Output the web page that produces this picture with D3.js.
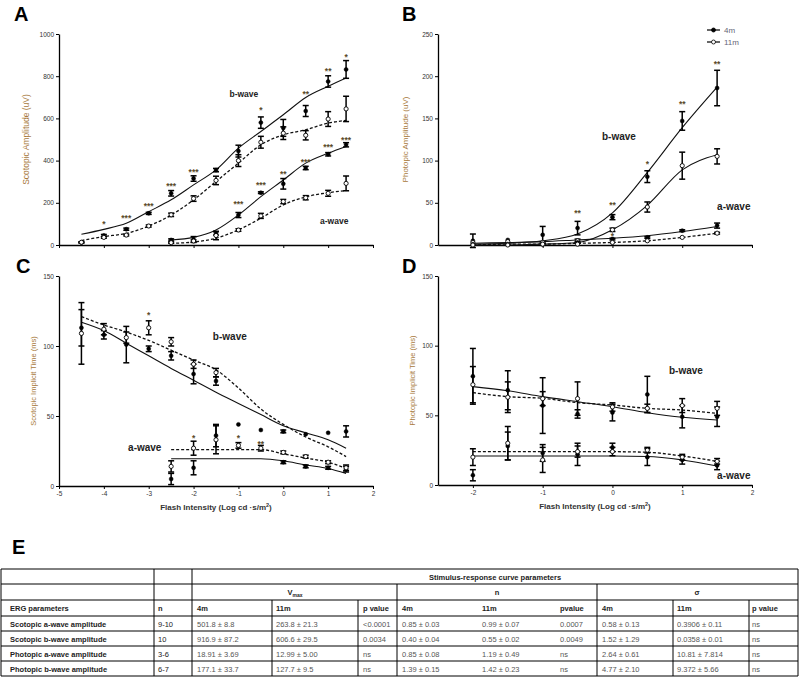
<!DOCTYPE html>
<html>
<head>
<meta charset="utf-8">
<script src="https://cdn.jsdelivr.net/npm/d3@7"></script>
<style>
  body { margin: 0; background: #fff; }
  svg { display: block; font-family: "Liberation Sans", Arial, sans-serif; }
</style>
</head>
<body>
<svg id="chart" width="800" height="678"></svg>
<script>
// ---- flash intensities (log cd.s/m2) ----
var scotIntensity = [-4.5, -4, -3.5, -3, -2.5, -2, -1.5, -1, -0.5, 0, 0.5, 1, 1.4];
var scotIntensityA = [-2.5, -2, -1.5, -1, -0.5, 0, 0.5, 1, 1.4];
var photIntensity = [-2, -1.5, -1, -0.5, 0, 0.5, 1, 1.5];

// ---- A: scotopic amplitude (uV) ----
var scotB4m = [12, 45, 75, 150, 245, 315, 355, 445, 580, 555, 635, 775, 832];
var scotB4mErr = [3, 5, 5, 5, 13, 13, 8, 28, 27, 40, 26, 27, 42];
var scotB11m = [13, 36, 47, 90, 143, 220, 306, 400, 487, 530, 520, 597, 645];
var scotB11mErr = [2, 4, 4, 5, 8, 13, 20, 28, 28, 30, 22, 35, 60];
var scotA4m = [24, 26, 55, 142, 248, 290, 365, 430, 475];
var scotA4mErr = [5, 14, 8, 12, 4, 25, 8, 8, 10];
var scotA11m = [11, 19, 45, 71, 138, 206, 224, 245, 292];
var scotA11mErr = [3, 5, 20, 6, 12, 10, 10, 14, 35];
var scotBFit4m = [51, 74, 103, 158, 214, 285, 356, 459, 538, 617, 699, 752, 791];
var scotBFit11m = [21, 40, 55, 90, 142, 214, 301, 388, 475, 522, 546, 578, 590];
var scotAFit4m = [24, 36, 71, 142, 229, 308, 388, 435, 467];
var scotAFit11m = [8, 14, 32, 72, 127, 190, 228, 248, 258];
var scotAmpStarX = [-4, -3.5, -3, -2.5, -2, -0.5, 0.5, 1, 1.4, -1, -0.5, 0, 0.5, 1, 1.4];
var scotAmpStarY = [106, 131, 190, 282, 353, 645, 720, 828, 897, 198, 290, 340, 399, 467, 503];
var scotAmpStars = ["*", "***", "***", "***", "***", "*", "**", "**", "*", "***", "***", "**", "***", "***", "***"];

// ---- B: photopic amplitude (uV) ----
var photB4m = [5, 6, 12, 20, 33, 81, 147, 186];
var photB4mErr = [8, 0, 10, 8, 3, 7, 11, 21];
var photB11m = [3, 4, 3, 5, 18, 45, 94, 105];
var photB11mErr = [0, 0, 1, 2, 2, 6, 16, 9];
var photA4m = [1, 1, 1, 3, 7, 9, 17, 23];
var photA4mErr = [0, 0, 0, 1, 1, 1, 1, 3];
var photA11m = [0, 0, 1, 1, 3, 5, 9, 14];
var photA11mErr = [0, 0, 0, 0, 0, 0, 0, 1];
var photBFit4m = [1, 2, 5, 13, 38, 86, 139, 187];
var photBFit11m = [0, 0, 1, 3, 18, 47, 89, 107];
var photAFit4m = [2, 3, 4, 6, 8, 11, 16, 22];
var photAFit11m = [0, 1, 1, 2, 3, 5, 9, 14];
var photAmpStarX = [-0.5, 0, 0.5, 1, 1.5, 0];
var photAmpStarY = [39, 49, 97, 168, 216, 12];
var photAmpStars = ["**", "**", "*", "**", "**", "*"];

// ---- C: scotopic implicit time (ms) ----
var scotTimeB4m = [113, 108, 101, 98, 93, 80, 75, 44, 40, 39, 37, 38, 39];
var scotTimeB4mErr = [13, 3, 13, 2, 3, 7, 3, 0, 0, 1, 0, 0, 4];
var scotTimeB11m = [109, 112, 106, 113, 103, 87, 81, null, null, null, null, null, null];
var scotTimeB11mErr = [22, 4, 4, 5, 3, 3, 3, 0, 0, 0, 0, 0, 0];
var scotTimeA4m = [5, 13, 36, null, null, 17, 14, 13, 12];
var scotTimeA4mErr = [4, 5, 8, 0, 0, 1, 1, 1, 2];
var scotTimeA11m = [14, 27, 33, 29, 27, 24, 21, 17, 13];
var scotTimeA11mErr = [4, 5, 10, 2, 2, 1, 1, 1, 2];
var scotTimeBFit4m = [117, 111, 102, 93, 84, 75.5, 67, 59, 51, 43, 38, 33, 27];
var scotTimeBFit11m = [121, 115, 110, 104, 97, 90, 83, 70, 55, 44, 35, 28, 21];
var scotTimeAFit4m = [19.5, 19.5, 19.5, 19.5, 19.5, 18, 15, 12.5, 9];
var scotTimeAFit11m = [26, 26, 26, 26, 26, 23, 20, 17, 12.5];
var scotTimeStarX = [-3, -2, -1, -0.5];
var scotTimeStarY = [123, 35, 35, 31];
var scotTimeStars = ["*", "*", "*", "**"];

// ---- D: photopic implicit time (ms) ----
var photTimeB4m = [78, 68, 57, 51, 52, 65, 49, 49];
var photTimeB4mErr = [20, 14, 20, 3, 6, 13, 8, 7];
var photTimeB11m = [72, 63, 62, 62, 56, 55, 57, 55];
var photTimeB11mErr = [13, 11, 5, 12, 3, 3, 5, 5];
var photTimeA4m = [7, 28, 23, 22, 27, 20, 18, 14];
var photTimeA4mErr = [4, 10, 6, 8, 3, 6, 3, 3];
var photTimeA11m = [20, 30, 18, 24, 24, 25, 20, 17];
var photTimeA11mErr = [6, 12, 9, 4, 3, 2, 2, 2];
var photTimeBFit4m = [70.6, 67.7, 63.4, 59.8, 56.2, 51.9, 48.6, 46.7];
var photTimeBFit11m = [66.3, 63.4, 62.2, 59.1, 57.4, 55, 53.8, 51.4];
var photTimeAFit4m = [20.8, 20.8, 20.8, 20.8, 20.8, 20.5, 18, 13.6];
var photTimeAFit11m = [23.9, 23.9, 23.9, 23.9, 23.9, 23.5, 20.8, 17];

// ---- E: table ----
var tableHeader = ["ERG parameters", "n", "4m", "11m", "p value", "4m", "11m", "pvalue", "4m", "11m", "p value"];
var tableRows = [
  ["Scotopic a-wave amplitude", "9-10", "501.8 ± 8.8", "263.8 ± 21.3", "<0.0001", "0.85 ± 0.03", "0.99 ± 0.07", "0.0007", "0.58 ± 0.13", "0.3906 ± 0.11", "ns"],
  ["Scotopic b-wave amplitude", "10", "916.9 ± 87.2", "606.6 ± 29.5", "0.0034", "0.40 ± 0.04", "0.55 ± 0.02", "0.0049", "1.52 ± 1.29", "0.0358 ± 0.01", "ns"],
  ["Photopic a-wave amplitude", "3-6", "18.91 ± 3.69", "12.99 ± 5.00", "ns", "0.85 ± 0.08", "1.19 ± 0.49", "ns", "2.64 ± 0.61", "10.81 ± 7.814", "ns"],
  ["Photopic b-wave amplitude", "6-7", "177.1 ± 33.7", "127.7 ± 9.5", "ns", "1.39 ± 0.15", "1.42 ± 0.23", "ns", "4.77 ± 2.10", "9.372 ± 5.66", "ns"]
];

var svg = d3.select("#chart");
svg.append("rect").attr("width", 800).attr("height", 678).attr("fill", "#fff");

var zip = function(xs, ys, es) {
  return xs.map(function(v, i) { return { x: v, y: ys[i], e: es ? es[i] : 0 }; });
};

var drawPanel = function(p) {
  var x = d3.scaleLinear().domain(p.xDomain).range([p.left, p.right]);
  var y = d3.scaleLinear().domain(p.yDomain).range([p.bottom, p.top]);
  var g = svg.append("g");

  var xAxis = d3.axisBottom(x).tickValues(p.xTicks).tickSize(3).tickSizeOuter(0).tickPadding(2)
    .tickFormat(p.xLabels ? function(d) { return String(d); } : "");
  var ax = g.append("g").attr("transform", "translate(0," + p.bottom + ")").call(xAxis);
  var ay = g.append("g").attr("transform", "translate(" + p.left + ",0)")
    .call(d3.axisLeft(y).tickValues(p.yTicks).tickSize(3).tickSizeOuter(0).tickPadding(2)
      .tickFormat(function(d) { return String(d); }));
  [ax, ay].forEach(function(a) {
    a.select(".domain").attr("stroke", "#000").attr("stroke-width", 1.3);
    a.selectAll(".tick line").attr("stroke", "#000").attr("stroke-width", 1);
    a.selectAll(".tick text").attr("font-size", 6.5).attr("fill", "#333")
      .attr("font-family", "Liberation Sans, Arial, sans-serif");
  });

  // y title
  g.append("text")
    .attr("transform", "translate(" + p.yTitleX + "," + ((p.top + p.bottom) / 2) + ") rotate(-90)")
    .attr("text-anchor", "middle").attr("font-size", p.yTitleSize).attr("fill", "#a87a3c")
    .text(p.yTitle);
  if (p.xTitle) {
    var t = g.append("text")
      .attr("x", (p.left + p.right) / 2).attr("y", p.bottom + 24)
      .attr("text-anchor", "middle").attr("font-size", 8).attr("font-weight", "bold").attr("fill", "#333");
    t.append("tspan").text("Flash Intensity (Log cd ·s/m");
    t.append("tspan").attr("font-size", 5.5).attr("dy", -3).text("2");
    t.append("tspan").attr("dy", 3).text(")");
  }

  // fitted curves
  var line = d3.line()
    .defined(function(d) { return d.y != null; })
    .x(function(d) { return x(d.x); })
    .y(function(d) { return y(d.y); })
    .curve(d3.curveMonotoneX);
  p.fits.forEach(function(f) {
    g.append("path").datum(zip(f.x, f.y))
      .attr("d", line).attr("fill", "none").attr("stroke", "#111")
      .attr("stroke-width", f.dashed ? 1.3 : 1.1)
      .attr("stroke-dasharray", f.dashed ? "3,2" : null);
  });

  // error bars and markers
  p.series.forEach(function(s) {
    var pts = zip(s.x, s.y, s.e).filter(function(d) { return d.y != null; });
    var eb = g.append("g").attr("stroke", "#000").attr("stroke-width", 1.5);
    pts.filter(function(d) { return d.e > 0; }).forEach(function(d) {
      var cx = x(d.x), y1 = y(d.y - d.e), y2 = y(d.y + d.e);
      eb.append("line").attr("x1", cx).attr("x2", cx).attr("y1", y1).attr("y2", y2);
      eb.append("line").attr("x1", cx - 3).attr("x2", cx + 3).attr("y1", y1).attr("y2", y1);
      eb.append("line").attr("x1", cx - 3).attr("x2", cx + 3).attr("y1", y2).attr("y2", y2);
    });
    g.selectAll(null).data(pts).enter().append("circle")
      .attr("cx", function(d) { return x(d.x); })
      .attr("cy", function(d) { return y(d.y); })
      .attr("r", s.filled ? 2 : 2.1)
      .attr("fill", s.filled ? "#000" : "#fff")
      .attr("stroke", "#000").attr("stroke-width", s.filled ? 0.5 : 0.9);
  });

  // significance stars
  g.selectAll(null).data(p.stars.x).enter().append("text")
    .attr("x", function(d) { return x(d); })
    .attr("y", function(d, i) { return y(p.stars.y[i]) + 4; })
    .attr("text-anchor", "middle").attr("font-size", 8.5).attr("font-weight", "bold").attr("fill", "#5a4a2a")
    .text(function(d, i) { return p.stars.labels[i]; });

  // wave labels
  p.labels.forEach(function(l) {
    g.append("text").attr("x", x(l.x)).attr("y", y(l.y))
      .attr("font-size", l.size).attr("font-weight", "bold").attr("fill", "#222")
      .text(l.text);
  });
  return { x: x, y: y };
};

// Panel A
drawPanel({
  left: 59, right: 373, top: 34, bottom: 245,
  xDomain: [-5, 2], yDomain: [0, 1000],
  xTicks: [-5, -4, -3, -2, -1, 0, 1, 2], yTicks: [0, 200, 400, 600, 800, 1000], xLabels: false,
  yTitle: "Scotopic Amplitude (uV)", yTitleX: 29, yTitleSize: 8.5,
  fits: [
    { x: scotIntensity, y: scotBFit4m }, { x: scotIntensity, y: scotBFit11m, dashed: true },
    { x: scotIntensityA, y: scotAFit4m }, { x: scotIntensityA, y: scotAFit11m, dashed: true }
  ],
  series: [
    { x: scotIntensity, y: scotB4m, e: scotB4mErr, filled: true },
    { x: scotIntensity, y: scotB11m, e: scotB11mErr },
    { x: scotIntensityA, y: scotA4m, e: scotA4mErr, filled: true },
    { x: scotIntensityA, y: scotA11m, e: scotA11mErr }
  ],
  stars: { x: scotAmpStarX, y: scotAmpStarY, labels: scotAmpStars },
  labels: [{ text: "b-wave", x: -1.2, y: 700, size: 8.5 }, { text: "a-wave", x: 0.82, y: 100, size: 8.5 }]
});

// Panel B
drawPanel({
  left: 438, right: 752, top: 34, bottom: 245,
  xDomain: [-2.5, 2], yDomain: [0, 250],
  xTicks: [-2, -1, 0, 1, 2], yTicks: [0, 50, 100, 150, 200, 250], xLabels: false,
  yTitle: "Photopic Amplitude (uV)", yTitleX: 408, yTitleSize: 8,
  fits: [
    { x: photIntensity, y: photBFit4m }, { x: photIntensity, y: photBFit11m },
    { x: photIntensity, y: photAFit4m }, { x: photIntensity, y: photAFit11m, dashed: true }
  ],
  series: [
    { x: photIntensity, y: photB4m, e: photB4mErr, filled: true },
    { x: photIntensity, y: photB11m, e: photB11mErr },
    { x: photIntensity, y: photA4m, e: photA4mErr, filled: true },
    { x: photIntensity, y: photA11m, e: photA11mErr }
  ],
  stars: { x: photAmpStarX, y: photAmpStarY, labels: photAmpStars },
  labels: [{ text: "b-wave", x: -0.15, y: 125, size: 10 }, { text: "a-wave", x: 1.5, y: 41, size: 10 }]
});

// Panel C
drawPanel({
  left: 59, right: 373, top: 276, bottom: 486,
  xDomain: [-5, 2], yDomain: [0, 150],
  xTicks: [-5, -4, -3, -2, -1, 0, 1, 2], yTicks: [0, 50, 100, 150], xLabels: true, xTitle: true,
  yTitle: "Scotopic Implicit Time  (ms)", yTitleX: 36, yTitleSize: 7.5,
  fits: [
    { x: scotIntensity, y: scotTimeBFit4m }, { x: scotIntensity, y: scotTimeBFit11m, dashed: true },
    { x: scotIntensityA, y: scotTimeAFit4m }, { x: scotIntensityA, y: scotTimeAFit11m, dashed: true }
  ],
  series: [
    { x: scotIntensity, y: scotTimeB4m, e: scotTimeB4mErr, filled: true },
    { x: scotIntensity, y: scotTimeB11m, e: scotTimeB11mErr },
    { x: scotIntensityA, y: scotTimeA4m, e: scotTimeA4mErr, filled: true },
    { x: scotIntensityA, y: scotTimeA11m, e: scotTimeA11mErr }
  ],
  stars: { x: scotTimeStarX, y: scotTimeStarY, labels: scotTimeStars },
  labels: [{ text: "b-wave", x: -1.57, y: 104, size: 10 }, { text: "a-wave", x: -3.46, y: 25, size: 10 }]
});

// Panel D
drawPanel({
  left: 438, right: 752, top: 276, bottom: 485,
  xDomain: [-2.5, 2], yDomain: [0, 150],
  xTicks: [-2, -1, 0, 1, 2], yTicks: [0, 50, 100, 150], xLabels: true, xTitle: true,
  yTitle: "Photopic Implicit Time  (ms)", yTitleX: 415, yTitleSize: 7.5,
  fits: [
    { x: photIntensity, y: photTimeBFit4m }, { x: photIntensity, y: photTimeBFit11m, dashed: true },
    { x: photIntensity, y: photTimeAFit4m }, { x: photIntensity, y: photTimeAFit11m, dashed: true }
  ],
  series: [
    { x: photIntensity, y: photTimeB4m, e: photTimeB4mErr, filled: true },
    { x: photIntensity, y: photTimeB11m, e: photTimeB11mErr },
    { x: photIntensity, y: photTimeA4m, e: photTimeA4mErr, filled: true },
    { x: photIntensity, y: photTimeA11m, e: photTimeA11mErr }
  ],
  stars: { x: [], y: [], labels: [] },
  labels: [{ text: "b-wave", x: 0.81, y: 79.7, size: 10 }, { text: "a-wave", x: 1.5, y: 4.3, size: 10 }]
});

// legend (panel B)
var legend = svg.append("g").attr("transform", "translate(707,0)");
[{ label: "4m", y: 30, filled: true }, { label: "11m", y: 42, filled: false }].forEach(function(l) {
  legend.append("line").attr("x1", 0).attr("x2", 13).attr("y1", l.y).attr("y2", l.y)
    .attr("stroke", "#000").attr("stroke-width", 1.2);
  legend.append("circle").attr("cx", 6.5).attr("cy", l.y).attr("r", 2)
    .attr("fill", l.filled ? "#000" : "#fff").attr("stroke", "#000").attr("stroke-width", 0.8);
  legend.append("text").attr("x", 17).attr("y", l.y + 3).attr("font-size", 8).attr("fill", "#667")
    .text(l.label);
});

// panel letters
[["A", 14, 21], ["B", 402, 21], ["C", 16, 273], ["D", 402, 273], ["E", 12, 554]].forEach(function(l) {
  svg.append("text").attr("x", l[1]).attr("y", l[2]).attr("font-size", 20).attr("font-weight", "bold")
    .attr("fill", "#000").text(l[0]);
});

// table E
var rowLines = [569, 584, 600, 616, 631, 646, 661, 676];
var colText = [10, 158, 197, 276, 363, 402, 482, 560, 602, 677, 752];
var tbl = svg.append("g").attr("stroke", "#000").attr("stroke-width", 1);
rowLines.forEach(function(ry) {
  tbl.append("line").attr("x1", 1).attr("x2", 798).attr("y1", ry).attr("y2", ry);
});
var vLine = function(xv, y1, y2) {
  tbl.append("line").attr("x1", xv).attr("x2", xv).attr("y1", y1).attr("y2", y2);
};
vLine(1, 569, 676); vLine(798, 569, 676); vLine(154, 569, 676); vLine(192, 569, 676);
vLine(397, 584, 676); vLine(597, 584, 676);
[272, 358, 673, 749].forEach(function(xv) { vLine(xv, 600, 676); });

var tt = svg.append("g").attr("font-size", 7.5).attr("fill", "#222");
tt.append("text").attr("x", 495).attr("y", 580).attr("text-anchor", "middle").attr("font-weight", "bold")
  .text("Stimulus-response curve parameters");
var vmax = tt.append("text").attr("x", 295).attr("y", 595).attr("text-anchor", "middle").attr("font-weight", "bold");
vmax.append("tspan").text("V");
vmax.append("tspan").attr("font-size", 5).attr("dy", 1.5).text("max");
tt.append("text").attr("x", 497).attr("y", 595).attr("text-anchor", "middle").attr("font-weight", "bold").text("n");
tt.append("text").attr("x", 697).attr("y", 595).attr("text-anchor", "middle").attr("font-weight", "bold").text("σ");
tableHeader.forEach(function(h, i) {
  tt.append("text").attr("x", colText[i]).attr("y", 611).attr("font-weight", "bold").text(h);
});
tableRows.forEach(function(r, ri) {
  r.forEach(function(c, ci) {
    tt.append("text").attr("x", colText[ci]).attr("y", 627 + ri * 15)
      .attr("font-weight", ci === 0 ? "bold" : "normal")
      .attr("fill", ci < 2 ? "#222" : "#555")
      .text(c);
  });
});
</script>
</body>
</html>
